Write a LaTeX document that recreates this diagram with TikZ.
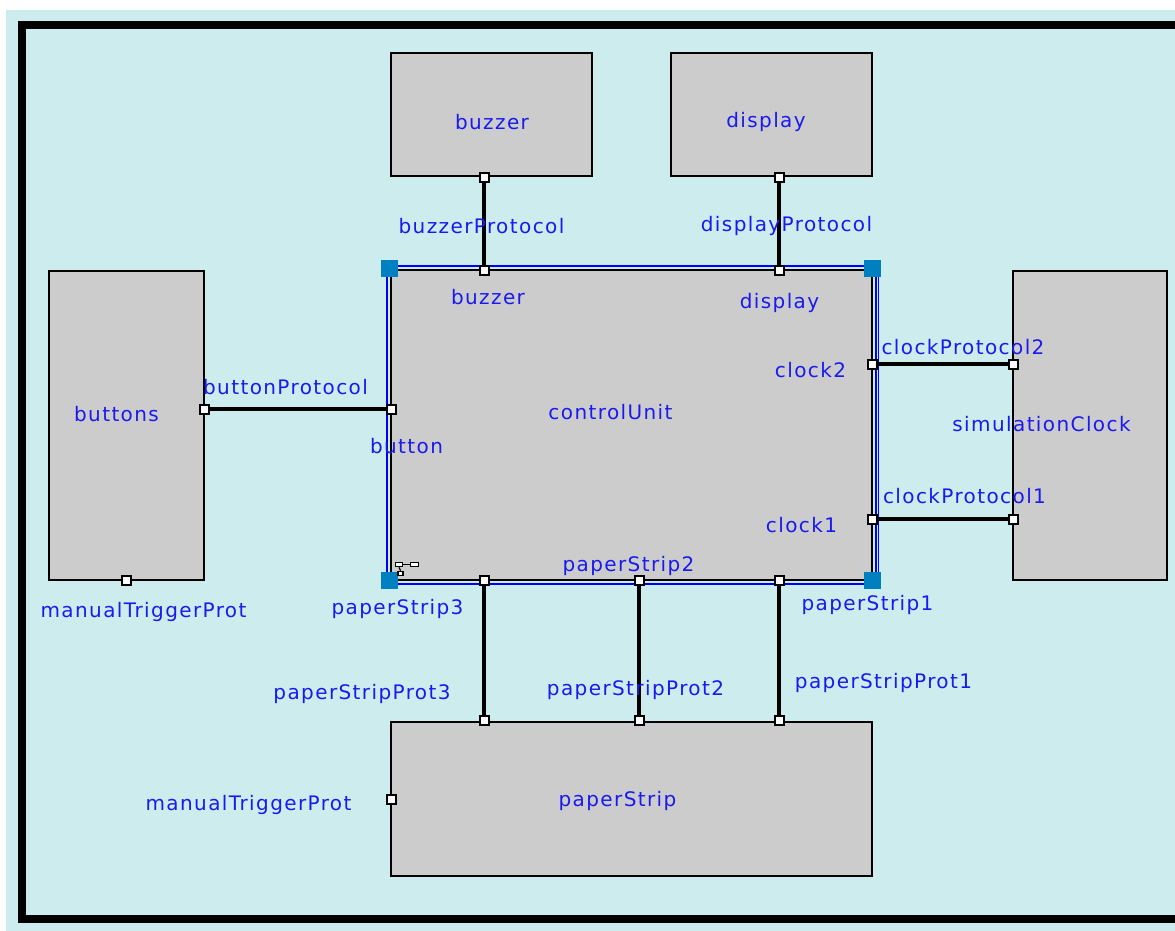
\documentclass[tikz,border=0pt]{standalone}
\usepackage{fontspec}
\newfontfamily\lblfont{DejaVu Sans}[LetterSpace=7]
\definecolor{canvas}{RGB}{205,236,238}
\definecolor{boxgrey}{RGB}{204,204,204}
\definecolor{lblblue}{RGB}{26,26,240}
\definecolor{selblue}{RGB}{0,0,255}
\definecolor{handle}{RGB}{0,128,192}
\tikzset{
  actor/.style={draw=black, line width=1.8pt, fill=boxgrey, inner sep=0pt},
  port/.style={draw=black, line width=2pt, fill=white, minimum size=9pt, inner sep=0pt, rectangle},
  wire/.style={draw=black, line width=3.4pt},
  lbl/.style={text=lblblue, font=\lblfont\fontsize{20}{23}\selectfont, inner sep=0pt, text height=14pt, text depth=0pt, anchor=center},
  grip/.style={fill=handle, minimum size=17pt, inner sep=0pt, rectangle},
}
\begin{document}
\begin{tikzpicture}[x=1pt,y=-1pt]
\useasboundingbox (0,0) rectangle (1175,931);
\clip (0,0) rectangle (1175,931);
\fill[white] (0,0) rectangle (1175,931);
\fill[canvas] (6,10) rectangle (1180,940);
% outer frame, open to the right
\draw[line width=8pt, line join=miter] (1185,25) -- (21.5,25) -- (21.5,919) -- (1185,919);

% actors
\node[actor, minimum width=201pt, minimum height=123pt] (buzzer) at (491.5,114.5) {};
\node[actor, minimum width=201pt, minimum height=123pt] (display) at (771.5,114.5) {};
\node[actor, minimum width=155pt, minimum height=309pt] (buttons) at (126.5,425.5) {};
\node[actor, minimum width=154pt, minimum height=309pt] (simclock) at (1090,425.5) {};
\node[actor, minimum width=481pt, minimum height=154pt] (paperstrip) at (631.5,799) {};
\node[actor, minimum width=481pt, minimum height=310pt] (control) at (631.5,425) {};

% selection outline of controlUnit
\draw[selblue, line width=1.8pt] ([shift={(-3.5,-3)}]control.north west) rectangle ([shift={(3.2,3)}]control.south east);
\draw[selblue, line width=1pt] ([shift={(5.2,0)}]control.north east) -- ([shift={(5.2,0)}]control.south east);
\node[grip] (gripNW) at (389.5,268.5) {};
\node[grip] (gripNE) at (872,268.5) {};
\node[grip] (gripSW) at (389.5,580.5) {};
\node[grip] (gripSE) at (872,580.5) {};

% hierarchy marker inside controlUnit
\node[draw=black, line width=1.2pt, fill=white, minimum width=7pt, minimum height=4.5pt, inner sep=0pt] (hA) at (399,564.5) {};
\node[draw=black, line width=1.2pt, fill=white, minimum width=8pt, minimum height=4.5pt, inner sep=0pt] (hB) at (414.5,564.5) {};
\node[draw=black, line width=1.2pt, fill=white, minimum width=5pt, minimum height=4.5pt, inner sep=0pt] (hC) at (400.5,573.5) {};
\draw[line width=1.2pt] (hA) -- (hB);
\draw[line width=1.2pt] (hA.south) -- (hC.north);

% ports
\node[port] (pBuzzer) at (484,177) {};
\node[port] (pDisplay) at (779,177) {};
\node[port] (pButtons) at (204,409) {};
\node[port] (pButtonsTrig) at (126,580) {};
\node[port] (pSimC2) at (1013,364) {};
\node[port] (pSimC1) at (1013,519) {};
\node[port] (pPS3) at (484,720) {};
\node[port] (pPS2) at (639,720) {};
\node[port] (pPS1) at (779,720) {};
\node[port] (pPSTrig) at (391,799) {};
\node[port] (cBuzzer) at (484,270) {};
\node[port] (cDisplay) at (779,270) {};
\node[port] (cButton) at (391,409) {};
\node[port] (cClock2) at (872,364) {};
\node[port] (cClock1) at (872,519) {};
\node[port] (cPS3) at (484,580) {};
\node[port] (cPS2) at (639,580) {};
\node[port] (cPS1) at (779,580) {};

% relations
\draw[wire] (pBuzzer) -- (cBuzzer);
\draw[wire] (pDisplay) -- (cDisplay);
\draw[wire] (pButtons) -- (cButton);
\draw[wire] (cClock2) -- (pSimC2);
\draw[wire] (cClock1) -- (pSimC1);
\draw[wire] (cPS3) -- (pPS3);
\draw[wire] (cPS2) -- (pPS2);
\draw[wire] (cPS1) -- (pPS1);

% actor names
\node[lbl] (tBuzzer) at (492,123) {buzzer};
\node[lbl] (tDisplay) at (766,121) {display};
\node[lbl] (tButtons) at (116.5,414) {buttons};
\node[lbl] (tControl) at (610.5,412) {controlUnit};
\node[lbl] (tSimClock) at (1041.5,424) {simulationClock};
\node[lbl] (tPaper) at (617.5,799) {paperStrip};

% port and relation names
\node[lbl] (tBzProt) at (481.5,226) {buzzerProtocol};
\node[lbl] (tDpProt) at (786.5,224) {displayProtocol};
\node[lbl] (tCBz) at (488,297) {buzzer};
\node[lbl] (tCDp) at (779.5,301) {display};
\node[lbl] (tBtnProt) at (285.5,387) {buttonProtocol};
\node[lbl] (tCBtn) at (406.5,446) {button};
\node[lbl] (tClk2) at (810.5,370) {clock2};
\node[lbl] (tClkProt2) at (963,347) {clockProtocol2};
\node[lbl] (tClkProt1) at (964.5,496) {clockProtocol1};
\node[lbl] (tClk1) at (801.5,525) {clock1};
\node[lbl] (tPS2) at (628.5,564) {paperStrip2};
\node[lbl] (tPS3) at (397.5,607) {paperStrip3};
\node[lbl] (tPS1) at (867.5,603) {paperStrip1};
\node[lbl] (tTrigA) at (143.5,610) {manualTriggerProt};
\node[lbl] (tPSP3) at (362,692) {paperStripProt3};
\node[lbl] (tPSP2) at (635.5,688) {paperStripProt2};
\node[lbl] (tPSP1) at (883.5,681) {paperStripProt1};
\node[lbl] (tTrigB) at (248.5,803) {manualTriggerProt};
\end{tikzpicture}
\end{document}
